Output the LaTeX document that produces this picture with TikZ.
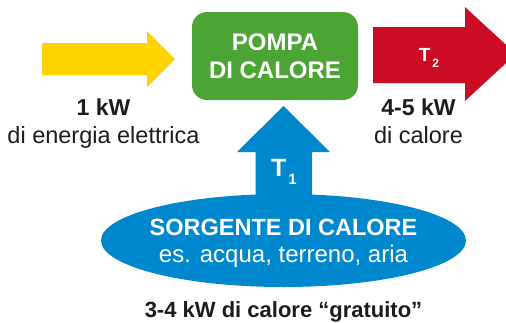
\documentclass[tikz,border=0pt]{standalone}
\usepackage{fontspec}
\setmainfont{Liberation Sans}
\usepackage{xcolor}
\usepackage{tikz}
\usetikzlibrary{shapes.geometric, positioning}
\definecolor{pumpgreen}{HTML}{4BA433}
\definecolor{heatred}{HTML}{CC0C25}
\definecolor{powerylw}{HTML}{FFD300}
\definecolor{sourceblue}{HTML}{0088CE}
\definecolor{ink}{HTML}{1C1C1C}
\newcommand{\tsub}[3]{#1\kern2pt\raisebox{-0.55ex}{\fontsize{#3}{#3}\selectfont #2}}
\tikzset{
  % Heat pump block
  pumpbox/.style={
    rectangle, rounded corners=15pt, fill=pumpgreen, text=white,
    minimum width=166pt, minimum height=88pt, inner sep=0pt,
    font=\fontsize{24}{28}\selectfont\bfseries, align=center
  },
  % Heat source
  sourceshape/.style={
    ellipse, fill=sourceblue, minimum width=365pt, minimum height=93pt, inner sep=0pt
  },
  sourcetext/.style={text=white, anchor=base, inner sep=0pt},
  % Block arrows
  blockarrow/.style={fill=#1, draw=none},
  blockarrow/.default=sourceblue,
  arrowlabel/.style={text=white, font=\fontsize{19}{19}\selectfont\bfseries, inner sep=0pt},
  % Labels
  bigbold/.style={text=ink, font=\fontsize{23}{27}\selectfont\bfseries, anchor=base, inner sep=0pt},
  bigreg/.style={text=ink, font=\fontsize{23.5}{27}\selectfont, anchor=base, inner sep=0pt},
}
\begin{document}
\begin{tikzpicture}[x=1pt, y=-1pt]
  \useasboundingbox (0,0) rectangle (506,322);
  \clip (0,0) rectangle (506,322);

  % Heat pump
  \node[pumpbox] (pompa) at (275,56) {POMPA\\DI CALORE};

  % Electric input
  \fill[blockarrow=powerylw] (42,43) -- (147,43) -- (147,31) -- (175,59)
    -- (147,87) -- (147,75) -- (42,75) -- cycle;
  \node[bigbold] (inkw) at (103.5,115) {1 kW};
  \node[bigreg] (intext) at (103.5,143) {di energia elettrica};

  % Heat output
  \fill[blockarrow=heatred] (373,27) -- (465,27) -- (465,7) -- (516,54)
    -- (465,101) -- (465,83) -- (373,83) -- cycle;
  \node[arrowlabel] (t2) at (429,58) {\tsub{T}{2}{12}};
  \node[bigbold] (outkw) at (418.5,115) {4-5 kW};
  \node[bigreg] (outtext) at (418.5,143) {di calore};

  % Heat source
  \node[sourceshape] (sorgente) at (283.5,240.5) {};
  \fill[blockarrow] (255.5,205) -- (255.5,152) -- (237,152) -- (283.5,106)
    -- (330,152) -- (312,152) -- (312,205) -- cycle;
  \node[arrowlabel, font=\fontsize{25}{25}\selectfont\bfseries] (t1) at (284,172) {\tsub{T}{1}{15}};
  \node[sourcetext, font=\fontsize{23.5}{27}\selectfont\bfseries] (sorgtitle) at (283.5,235)
    {SORGENTE DI CALORE};
  \node[sourcetext, font=\fontsize{24}{27}\selectfont] (sorgsub) at (283.5,262)
    {es. acqua, terreno, aria};
  \node[bigbold, font=\fontsize{22}{26}\selectfont\bfseries] (freekw) at (283.5,317)
    {3-4 kW di calore “gratuito”};

\end{tikzpicture}
\end{document}
